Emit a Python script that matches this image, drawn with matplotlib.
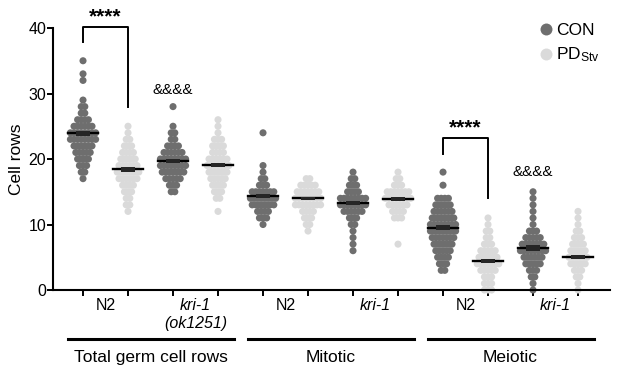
import numpy as np
import matplotlib
matplotlib.use("Agg")
from matplotlib import pyplot as plt
from matplotlib.lines import Line2D
from matplotlib.transforms import blended_transform_factory

plt.rcParams['font.family'] = ['Liberation Sans', 'DejaVu Sans']
plt.rcParams['mathtext.fontset'] = 'custom'
plt.rcParams['mathtext.rm'] = 'Liberation Sans'
plt.rcParams['mathtext.it'] = 'Liberation Sans:italic'

# worms per cell-row count  {cell rows: number of worms}
total_n2_con = {35: 1, 33: 1, 32: 1, 29: 1, 28: 2, 27: 2, 26: 4, 25: 6, 24: 8, 23: 8,
                22: 6, 21: 5, 20: 4, 19: 3, 18: 2, 17: 1}
total_n2_pd = {25: 1, 24: 1, 23: 2, 22: 3, 21: 4, 20: 5, 19: 6, 18: 7, 17: 6, 16: 4,
               15: 3, 14: 2, 13: 2, 12: 1}
total_kri_con = {28: 1, 25: 1, 24: 2, 23: 2, 22: 4, 21: 6, 20: 8, 19: 8, 18: 7, 17: 5,
                 16: 3, 15: 2}
total_kri_pd = {26: 1, 25: 1, 24: 1, 23: 3, 22: 4, 21: 4, 20: 6, 19: 7, 18: 6, 17: 5,
                16: 4, 15: 3, 14: 2, 12: 1}
mit_n2_con = {24: 1, 19: 1, 18: 1, 17: 2, 16: 3, 15: 7, 14: 8, 13: 7, 12: 4, 11: 3, 10: 1}
mit_n2_pd = {17: 2, 16: 5, 15: 7, 14: 8, 13: 8, 12: 4, 11: 3, 10: 2, 9: 1}
mit_kri_con = {18: 1, 17: 2, 16: 3, 15: 4, 14: 8, 13: 8, 12: 6, 11: 3, 10: 2, 9: 1,
               8: 1, 7: 1, 6: 1}
mit_kri_pd = {18: 1, 17: 2, 16: 3, 15: 7, 14: 8, 13: 6, 12: 4, 11: 3, 7: 1}
mei_n2_con = {18: 1, 16: 1, 14: 4, 13: 5, 12: 6, 11: 7, 10: 8, 9: 8, 8: 7, 7: 6, 6: 5,
              5: 4, 4: 3, 3: 2}
mei_n2_pd = {11: 1, 10: 1, 9: 2, 8: 2, 7: 3, 6: 5, 5: 6, 4: 7, 3: 5, 2: 3, 1: 3, 0: 3}
mei_kri_con = {15: 1, 14: 1, 13: 1, 12: 1, 11: 1, 10: 1, 9: 3, 8: 5, 7: 7, 6: 8, 5: 6,
               4: 5, 3: 3, 2: 2, 1: 1, 0: 1}
mei_kri_pd = {12: 1, 11: 1, 10: 1, 9: 2, 8: 3, 7: 4, 6: 5, 5: 6, 4: 5, 3: 3, 2: 2, 1: 1, 0: 1}

groups = [total_n2_con, total_n2_pd, total_kri_con, total_kri_pd,
          mit_n2_con, mit_n2_pd, mit_kri_con, mit_kri_pd,
          mei_n2_con, mei_n2_pd, mei_kri_con, mei_kri_pd]
means = [23.9, 18.4, 19.7, 19.1, 14.4, 14.0, 13.3, 13.9, 9.5, 4.4, 6.4, 5.1]
sems = [0.4, 0.35, 0.35, 0.35, 0.3, 0.25, 0.35, 0.25, 0.4, 0.3, 0.4, 0.3]

strain_labels = ["N2", "kri-1\n(ok1251)", "N2", "kri-1", "N2", "kri-1"]
section_labels = ["Total germ cell rows", "Mitotic", "Meiotic"]

con_color = "#6e6e6e"
pd_color = "#dadada"

fig = plt.figure(figsize=(6.17, 3.74), dpi=100)
ax = fig.add_axes([0.0859, 0.2246, 0.9027, 0.7005])

dx = 0.08
for i, g in enumerate(groups):
    xs, ys = [], []
    for v, k in g.items():
        off = (np.arange(k) - (k - 1) / 2.0) * dx
        xs.extend(i + off)
        ys.extend([v] * k)
    col = con_color if i % 2 == 0 else pd_color
    ax.scatter(xs, ys, s=26, color=col, edgecolors="none", zorder=2, clip_on=False)

# mean line and SEM box
for i in range(len(groups)):
    ax.plot([i - 0.34, i + 0.34], [means[i], means[i]], color="black", lw=1.7, zorder=4)
    ax.bar(i, 2 * sems[i], bottom=means[i] - sems[i], width=0.32, color="#262626", zorder=4)

ax.set_xlim(-0.667, 11.71)
ax.set_ylim(0, 40)
ax.set_yticks([0, 10, 20, 30, 40])
ax.set_xticks(range(12))
ax.set_xticklabels([])
ax.set_xticks([0.5, 2.5, 4.5, 6.5, 8.5, 10.5], minor=True)
ax.set_xticklabels(strain_labels, minor=True)
for lab in ax.get_xticklabels(minor=True):
    if lab.get_text().startswith("kri"):
        lab.set_fontstyle("italic")
ax.tick_params(axis="x", which="minor", length=0, pad=6, labelsize=11.5)
ax.tick_params(axis="both", which="major", length=4, width=1.4, labelsize=11.5, pad=1)
ax.set_ylabel("Cell rows", fontsize=12.5, labelpad=3)

for s in ["top", "right"]:
    ax.spines[s].set_visible(False)
for s in ["left", "bottom"]:
    ax.spines[s].set_linewidth(1.5)

# section bars under the axis
trans = blended_transform_factory(ax.transData, ax.transAxes)
for j, name in enumerate(section_labels):
    a, b = 4 * j, 4 * j + 3
    ax.plot([a - 0.33, b + 0.36], [-0.187, -0.187], color="black", lw=2.2,
            transform=trans, clip_on=False)
    ax.text((a + b) / 2.0, -0.258, name, transform=trans, ha="center", va="center",
            fontsize=12.5)

# significance marks
ax.plot([0, 0, 1, 1], [37.8, 40.2, 40.2, 28.0], color="black", lw=1.4, clip_on=False)
ax.text(0.5, 41.7, "****", ha="center", va="center", fontsize=15, fontweight="bold")
ax.plot([8, 8, 9, 9], [20.8, 23.2, 23.2, 14.0], color="black", lw=1.4, clip_on=False)
ax.text(8.5, 24.7, "****", ha="center", va="center", fontsize=15, fontweight="bold")
ax.text(2, 30.6, "&&&&", ha="center", va="center", fontsize=11)
ax.text(10, 18.0, "&&&&", ha="center", va="center", fontsize=11)

handles = [Line2D([], [], ls="none", marker="o", ms=8.6, color=con_color, mec="none"),
           Line2D([], [], ls="none", marker="o", ms=8.6, color=pd_color, mec="none")]
ax.legend(handles, ["CON", r"PD$_{\mathrm{Stv}}$"], loc="upper left",
          bbox_to_anchor=(530 / 617, 1 - 14 / 374), bbox_transform=fig.transFigure,
          frameon=False, fontsize=12.5, handlelength=0.8, handletextpad=0.2,
          labelspacing=0.45, borderpad=0)

plt.savefig("out.png", dpi=100)
